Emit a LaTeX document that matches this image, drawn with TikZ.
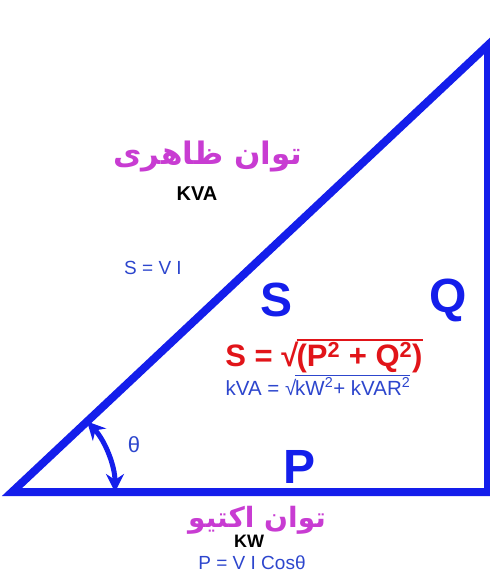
\documentclass[tikz,border=0pt]{standalone}
\usepackage{fontspec}
\setmainfont{Liberation Sans}
\newfontfamily\farsifont[Script=Arabic]{DejaVu Sans}
\TeXXeTstate=1
\usetikzlibrary{arrows.meta}
\usetikzlibrary{calc,positioning,quotes}
\usetikzlibrary{angles}

\definecolor{sideblue}{RGB}{20,30,235}
\definecolor{textblue}{RGB}{45,70,205}
\definecolor{formred}{RGB}{225,20,25}
\definecolor{farsimag}{RGB}{200,60,210}

% root sign with a bar over its argument
\newcommand{\rootover}[1]{√\kern-0.06em\vbox{\hrule height 0.07em\kern 0.06em\hbox{#1}}}

\tikzset{
  side/.style={line width=8pt, draw=sideblue, line join=miter},
  bigletter/.style={font=\fontsize{48}{48}\selectfont\bfseries, text=sideblue, inner sep=0pt},
  farsi/.style={font=\farsifont\fontsize{28}{32}\selectfont\bfseries, text=farsimag, inner sep=0pt},
  unit/.style={font=\fontsize{20}{20}\selectfont\bfseries, inner sep=0pt},
  relation/.style={font=\fontsize{19}{19}\selectfont, text=textblue, inner sep=0pt},
}

\begin{document}
\begin{tikzpicture}[x=1pt,y=-1pt]
    \useasboundingbox (0,0) rectangle (490,582);

    % triangle of powers
    \coordinate (A) at (12,492);
    \coordinate (B) at (488,492);
    \coordinate (C) at (488,45);
    \draw[side] (A) -- (B) -- (C) -- cycle;

    \pic[draw=sideblue, line width=5pt, {Stealth[length=18pt,width=18pt]}-{Stealth[length=18pt,width=18pt]}, angle radius=103pt] {angle = B--A--C};
    \node[relation, font=\fontsize{22}{22}\selectfont] (theta) at (134,445) {θ};

    % apparent power
    \node[farsi, font=\farsifont\fontsize{31}{34}\selectfont\bfseries] (apparent) at (208,157) {\beginR توان ظاهری\endR};
    \node[unit] (kva) at (197,194) {KVA};
    \node[relation] (svi) at (153,268) {S = V I};
    \node[bigletter] (s) at (277,300) {S};

    % reactive power
    \node[bigletter] (q) at (448,300) {Q};

    % formulas
    \node[font=\fontsize{31}{31}\selectfont\bfseries, text=formred, inner sep=0pt] (sform) at (324,356)
        {S = \rootover{(P\textsuperscript{2} + Q\textsuperscript{2})}};
    \node[relation, font=\fontsize{20.5}{20.5}\selectfont] (kvaform) at (318,385)
        {kVA = \rootover{kW\textsuperscript{2}+ kVAR\textsuperscript{2}}};

    % active power
    \node[bigletter] (p) at (300,467) {P};
    \node[farsi] (active) at (257,520) {\beginR توان اکتیو\endR};
    \node[unit, font=\fontsize{18}{18}\selectfont\bfseries] (kw) at (249,541) {KW};
    \node[relation] (pvi) at (252,563) {P = V I Cosθ};

\end{tikzpicture}
\end{document}
